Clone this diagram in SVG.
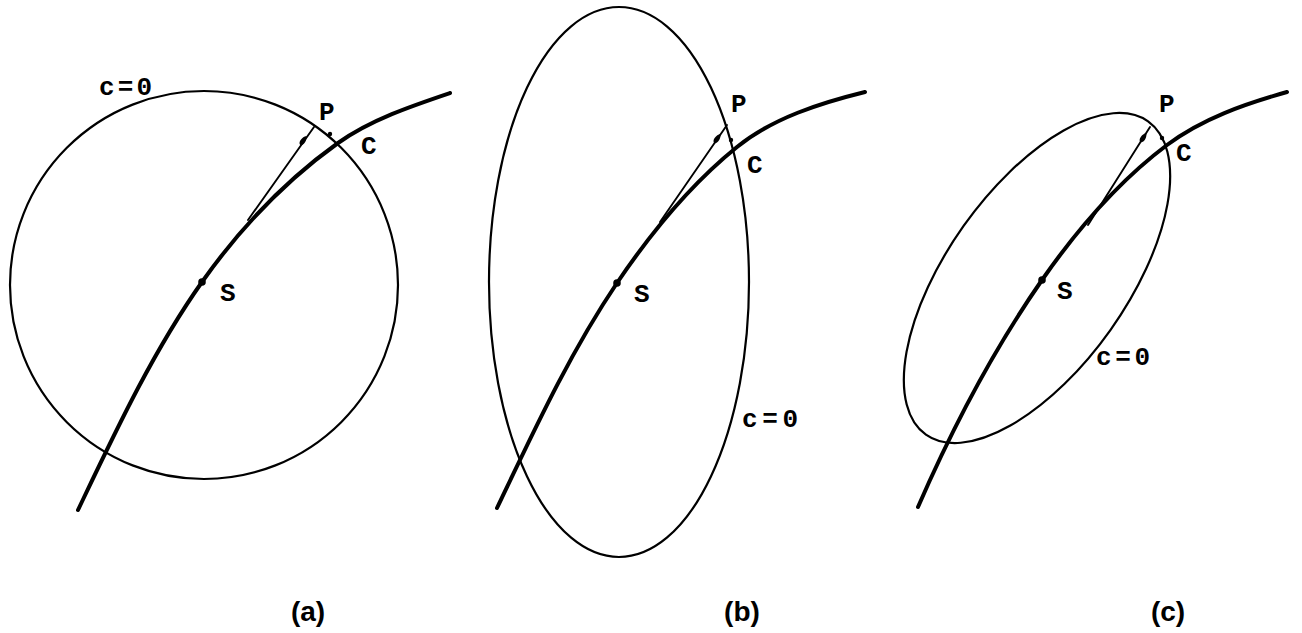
<svg xmlns="http://www.w3.org/2000/svg" width="1302" height="633" viewBox="0 0 1302 633">
<style>
.conic{fill:none;stroke:#000;stroke-width:2.2}
.traj{fill:none;stroke:#000;stroke-width:4;stroke-linecap:round}
.tan{fill:none;stroke:#000;stroke-width:1.9;stroke-linecap:round}
.lbl{font-family:"Liberation Mono",monospace;font-weight:bold;font-size:26px;fill:#000}
.cap{font-family:"Liberation Sans",sans-serif;font-weight:bold;font-size:28px;fill:#000;text-anchor:middle}
</style>
<defs>
<path id="ahead" d="M6,0 C3,-3.2 -4,-3.4 -5,0 C-4,3.4 3,3.2 6,0 Z" fill="#000"/>
</defs>
<rect width="1302" height="633" fill="#fff"/>

<g id="panel-a">
  <g id="a-conic"><circle class="conic" cx="204" cy="285" r="194"/></g>
  <g id="a-connectors">
    <path class="traj" d="M78,510 C114.5,433.5 152.7,351.7 202,282 C239.7,228.7 285.4,180.7 338,143 C370.4,119.8 412,105.8 450,93"/>
    <path class="tan" d="M248,220 L314,127"/>
    <use href="#ahead" transform="translate(303,141) rotate(-55)"/>
  </g>
  <g id="a-points">
    <circle cx="202" cy="282" r="3.8"/>
    <circle cx="330" cy="134" r="2.2"/>
  </g>
  <g id="a-labels">
    <text class="lbl" x="99" y="95" textLength="53">c=0</text>
    <text class="lbl" x="319" y="120">P</text>
    <text class="lbl" x="361" y="154">C</text>
    <text class="lbl" x="220" y="301">S</text>
  </g>
</g>

<g id="panel-b">
  <g id="b-conic"><ellipse class="conic" cx="619" cy="282" rx="130" ry="275"/></g>
  <g id="b-connectors">
    <path class="traj" d="M497,508 C533.6,431.5 569.4,353.6 617,283 C650.6,233.2 690.2,184.8 737,147 C772.9,118 820.4,103 865,92"/>
    <path class="tan" d="M660,222 L727,125"/>
    <use href="#ahead" transform="translate(717,139) rotate(-55)"/>
  </g>
  <g id="b-points">
    <circle cx="617" cy="283" r="3.8"/>
    <circle cx="731" cy="140" r="2.2"/>
  </g>
  <g id="b-labels">
    <text class="lbl" x="731" y="112">P</text>
    <text class="lbl" x="747" y="173">C</text>
    <text class="lbl" x="634" y="302">S</text>
    <text class="lbl" x="742" y="427" textLength="56">c=0</text>
  </g>
</g>

<g id="panel-c">
  <g id="c-conic"><ellipse class="conic" cx="1037" cy="278" rx="192" ry="90" transform="rotate(-54.65 1037 278)"/></g>
  <g id="c-connectors">
    <path class="traj" d="M918,507 C952.4,427.9 993,350.5 1042,280 C1076.8,230 1118.2,181.6 1167,145 C1202.2,118.6 1244.8,103.9 1287,92"/>
    <path class="tan" d="M1088,225 L1150,127"/>
    <use href="#ahead" transform="translate(1143,138) rotate(-57)"/>
  </g>
  <g id="c-points">
    <circle cx="1042" cy="280" r="3.8"/>
    <circle cx="1162" cy="138" r="2.2"/>
  </g>
  <g id="c-labels">
    <text class="lbl" x="1159" y="112">P</text>
    <text class="lbl" x="1176" y="161">C</text>
    <text class="lbl" x="1057" y="299">S</text>
    <text class="lbl" x="1096" y="365" textLength="54">c=0</text>
  </g>
</g>

<g id="captions">
  <text class="cap" x="308" y="621">(a)</text>
  <text class="cap" x="742" y="621">(b)</text>
  <text class="cap" x="1168" y="621">(c)</text>
</g>
</svg>
